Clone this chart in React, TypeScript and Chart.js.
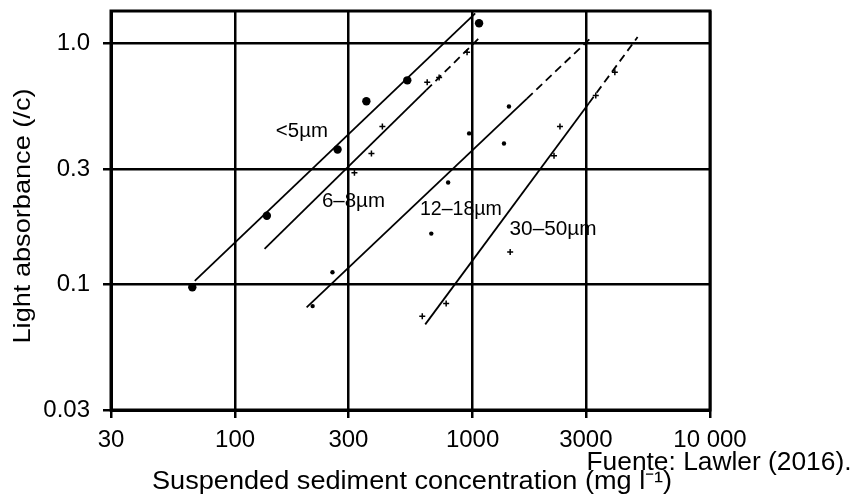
import { useEffect, useRef } from "react";
import { Chart, registerables } from "chart.js";

Chart.register(...registerables);

const FONT = '"Liberation Sans", Arial, Helvetica, sans-serif';

const xTicks = [30, 100, 300, 1000, 3000, 10000];
const xTickLabels = ["30", "100", "300", "1000", "3000", "10 000"];
const yTicks = [0.03, 0.1, 0.3, 1.0];
const yTickLabels = ["0.03", "0.1", "0.3", "1.0"];

// measured points
const lt5X = [66, 136, 270, 357, 531, 1065];
const lt5Y = [0.097, 0.192, 0.362, 0.574, 0.701, 1.21];
const s68X = [318, 375, 417, 644, 723, 948];
const s68Y = [0.29, 0.348, 0.451, 0.688, 0.72, 0.917];
const s1218X = [212, 257, 670, 789, 967, 1356, 1423];
const s1218Y = [0.081, 0.112, 0.162, 0.264, 0.422, 0.383, 0.546];
const s3050X = [614, 774, 1440, 2203, 2334, 3303, 3974];
const s3050Y = [0.0735, 0.083, 0.136, 0.341, 0.451, 0.607, 0.757];

// fitted lines: start, (dash start), end
const fitLt5X = [67.6, 1026];
const fitLt5Y = [0.103, 1.33];
const fit68X = [133, 638, 1086];
const fit68Y = [0.14, 0.638, 1.07];
const fit1218X = [200, 1694, 3177];
const fit1218Y = [0.08, 0.589, 1.06];
const fit3050X = [632, 3090, 4955];
const fit3050Y = [0.068, 0.563, 1.06];

// in-plot labels
const labelText = ["<5µm", "6–8µm", "12–18µm", "30–50µm"];
const labelX = [191, 315, 893, 2183];
const labelY = [0.431, 0.22, 0.203, 0.169];

const xTitle = "Suspended sediment concentration (mg l⁻¹)";
const yTitle = "Light absorbance (/c)";
const sourceText = "Fuente: Lawler (2016).";

const pts = (xs: number[], ys: number[]) => xs.map((x, i) => ({ x, y: ys[i] }));

function drawFitted(ctx: CanvasRenderingContext2D, text: string, cx: number, cy: number, target: number) {
  const w = ctx.measureText(text).width;
  const sx = target / w;
  ctx.save();
  ctx.translate(cx, cy);
  ctx.scale(sx, 1);
  ctx.textAlign = "center";
  ctx.fillText(text, 0, 0);
  ctx.restore();
}

const overlay = {
  id: "overlay",
  afterDraw(chart: any) {
    const { ctx, chartArea, scales } = chart;
    ctx.save();
    ctx.strokeStyle = "#000";
    ctx.lineWidth = 3;
    ctx.strokeRect(chartArea.left, chartArea.top, chartArea.right - chartArea.left, chartArea.bottom - chartArea.top);

    ctx.fillStyle = "#000";
    ctx.textBaseline = "middle";
    ctx.font = `20px ${FONT}`;
    const widths = [52, 63, 82, 87];
    labelText.forEach((t, i) => {
      const px = scales.x.getPixelForValue(labelX[i]);
      const py = scales.y.getPixelForValue(labelY[i]);
      drawFitted(ctx, t, px, py, widths[i]);
    });

    ctx.textBaseline = "alphabetic";
    ctx.font = `25px ${FONT}`;
    drawFitted(ctx, xTitle, 412, 489, 520);
    drawFitted(ctx, sourceText, 719, 470, 265);

    ctx.save();
    ctx.translate(23, 216);
    ctx.rotate(-Math.PI / 2);
    ctx.textBaseline = "middle";
    ctx.font = `24px ${FONT}`;
    drawFitted(ctx, yTitle, 0, 0, 255);
    ctx.restore();
    ctx.restore();
  },
};

export default function App() {
  const ref = useRef<HTMLCanvasElement>(null);
  useEffect(() => {
    if (!ref.current) return;
    const dash = (ctx: any) => (ctx.p0DataIndex === 1 ? [8, 5] : undefined);
    const lineDs = (xs: number[], ys: number[]) => ({
      type: "line" as const,
      data: pts(xs, ys),
      showLine: true,
      borderColor: "#000",
      borderWidth: 1.8,
      pointRadius: 0,
      fill: false,
      segment: { borderDash: dash },
    });
    const chart = new Chart(ref.current, {
      type: "scatter",
      data: {
        datasets: [
          lineDs(fitLt5X, fitLt5Y),
          lineDs(fit68X, fit68Y),
          lineDs(fit1218X, fit1218Y),
          lineDs(fit3050X, fit3050Y),
          { data: pts(lt5X, lt5Y), pointStyle: "circle", pointRadius: 4.2, backgroundColor: "#000", borderColor: "#000", borderWidth: 0 },
          { data: pts(s68X, s68Y), pointStyle: "cross", pointRadius: 3, borderColor: "#000", borderWidth: 1.5 },
          { data: pts(s1218X, s1218Y), pointStyle: "circle", pointRadius: 2.2, backgroundColor: "#000", borderColor: "#000", borderWidth: 0 },
          { data: pts(s3050X, s3050Y), pointStyle: "cross", pointRadius: 3, borderColor: "#000", borderWidth: 1.5 },
        ] as any,
      },
      options: {
        animation: false,
        responsive: false,
        layout: { padding: { top: 11, right: 144, left: 0, bottom: 0 } },
        plugins: { legend: { display: false }, tooltip: { enabled: false } },
        scales: {
          x: {
            type: "logarithmic",
            min: 30,
            max: 10000,
            afterBuildTicks: (s: any) => {
              s.ticks = xTicks.map((v) => ({ value: v }));
            },
            afterFit: (s: any) => {
              s.height = 89;
              s.paddingLeft = 0;
              s.paddingRight = 0;
            },
            ticks: {
              autoSkip: false,
              maxRotation: 0,
              color: "#000",
              padding: 8,
              font: { size: 24, family: FONT },
              callback: (v: any) => xTickLabels[xTicks.indexOf(Number(v))] ?? "",
            },
            grid: { color: "#000", lineWidth: 2.5, tickLength: 8 },
            border: { display: true, color: "#000", width: 3 },
          },
          y: {
            type: "logarithmic",
            min: 0.03,
            max: 1.36,
            afterBuildTicks: (s: any) => {
              s.ticks = yTicks.map((v) => ({ value: v }));
            },
            afterFit: (s: any) => {
              s.width = 111;
              s.paddingTop = 0;
              s.paddingBottom = 0;
            },
            ticks: {
              autoSkip: false,
              color: "#000",
              padding: 13,
              font: { size: 24, family: FONT },
              callback: (v: any) => {
                const i = yTicks.findIndex((t) => Math.abs(t - Number(v)) < 1e-9);
                return i >= 0 ? yTickLabels[i] : "";
              },
            },
            grid: { color: "#000", lineWidth: 2.5, tickLength: 8 },
            border: { display: true, color: "#000", width: 3 },
          },
        },
      },
      plugins: [overlay],
    });
    return () => chart.destroy();
  }, []);
  return (
    <div style={{ position: "absolute", left: 0, top: 0, width: 854, height: 499, background: "#fff" }}>
      <canvas ref={ref} width={854} height={499} style={{ display: "block" }} />
    </div>
  );
}
